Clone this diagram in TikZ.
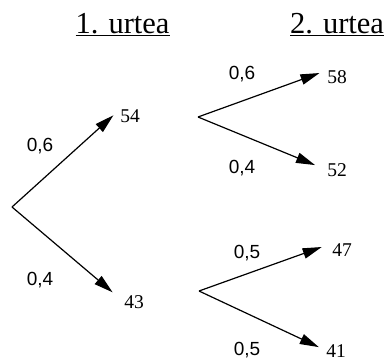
\documentclass[tikz,border=0pt]{standalone}
\usepackage{fontspec}
\setmainfont{Liberation Serif}
\newfontfamily\probfont{Liberation Sans}
\usetikzlibrary{arrows.meta}
\newcommand{\figtitle}{\fontsize{30.5}{34}\selectfont}
\newcommand{\fignum}{\fontsize{19.5}{22}\selectfont}
\newcommand{\figprob}{\probfont\fontsize{19}{22}\selectfont}
\tikzset{
  ttTitle/.style={font=\figtitle, inner sep=0pt, anchor=base},
  ttNum/.style={font=\fignum, inner sep=0pt, text height=13pt, text depth=0pt},
  ttProb/.style={font=\figprob, inner sep=0pt, text height=13pt, text depth=0pt},
  ttArrow/.style={-{Triangle[length=19pt,width=10.5pt]}, line width=1.2pt,
    line join=miter}
}

\begin{document}
\begin{tikzpicture}[x=1pt,y=-1pt]
\useasboundingbox (0,0) rectangle (387,362);
% titles
\node[ttTitle] (ur1) at (122.5,33) {\underline{1. urtea}};
\node[ttTitle] (ur2) at (337,33) {\underline{2. urtea}};
% branch points
\coordinate (root) at (12,207);
\coordinate (b54) at (198,117);
\coordinate (b43) at (199,291);
% values
\node[ttNum] (n54) at (130,116) {54};
\node[ttNum] (n43) at (134,302) {43};
\node[ttNum] (n58) at (337,77) {58};
\node[ttNum] (n52) at (337,170) {52};
\node[ttNum] (n47) at (342,250) {47};
\node[ttNum] (n41) at (336,350.5) {41};
% probabilities
\node[ttProb] (p54) at (40,145) {0,6};
\node[ttProb] (p43) at (40,279) {0,4};
\node[ttProb] (p58) at (242,73) {0,6};
\node[ttProb] (p52) at (242,167) {0,4};
\node[ttProb] (p47) at (247,252) {0,5};
\node[ttProb] (p41) at (247,349) {0,5};
% first step
\draw[ttArrow, shorten >=9pt] (root) -- (n54.north west);
\draw[ttArrow, shorten >=15pt] (root) -- (n43.west);
% second step
\draw[ttArrow, shorten >=8pt] (b54) -- (n58.north west);
\draw[ttArrow, shorten >=13pt] (b54) -- (n52.west);
\draw[ttArrow, shorten >=11pt] (b43) -- (n47.north west);
\draw[ttArrow, shorten >=8pt] (b43) -- (n41.west);
\end{tikzpicture}
\end{document}
